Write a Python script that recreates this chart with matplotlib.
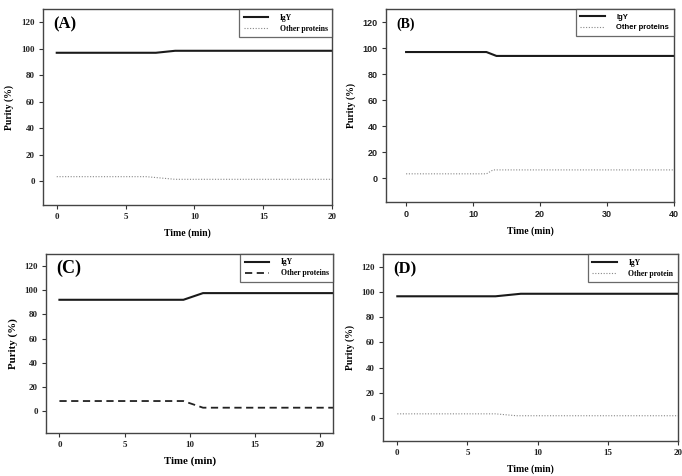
import matplotlib.pyplot as plt

# purity vs time for the four runs
t_a = [0, 7.2, 8.6, 20]
igy_a = [97, 97, 98.5, 98.5]
oth_t_a = [0, 6.5, 8.6, 20]
oth_a = [3.5, 3.5, 1.5, 1.5]

t_b = [0, 12, 13.5, 40]
igy_b = [97, 97, 94, 94]
oth_t_b = [0, 12, 13, 40]
oth_b = [3.5, 3.5, 6.5, 6.5]

t_c = [0, 9.5, 11, 21]
igy_c = [92, 92, 97.5, 97.5]
oth_t_c = [0, 9.5, 11, 21]
oth_c = [8.5, 8.5, 3, 3]

t_d = [0, 7, 8.8, 20]
igy_d = [96.5, 96.5, 98.5, 98.5]
oth_t_d = [0, 7, 8.5, 20]
oth_d = [3.5, 3.5, 2, 2]

serif = "Liberation Serif"
sans = "Liberation Sans"

fig = plt.figure(figsize=(6.82, 4.76), dpi=100)

panels = [
    # rect, label, t, igy, other t, other, xlim, xticks, other style, legend text, legend font, label size, tick font, panel size
    ([0.063, 0.569, 0.424, 0.412], "(A)", t_a, igy_a, oth_t_a, oth_a, (-1, 20), [0, 5, 10, 15, 20],
     "dotted", "Other proteins", serif, 7, serif, 12),
    ([0.566, 0.576, 0.422, 0.405], "(B)", t_b, igy_b, oth_t_b, oth_b, (-3, 40), [0, 10, 20, 30, 40],
     "dotted", "Other proteins", sans, 7, sans, 10),
    ([0.068, 0.090, 0.421, 0.377], "(C)", t_c, igy_c, oth_t_c, oth_c, (-1, 21), [0, 5, 10, 15, 20],
     "dashed", "Other proteins", serif, 7.8, serif, 13),
    ([0.562, 0.0735, 0.432, 0.393], "(D)", t_d, igy_d, oth_t_d, oth_d, (-1, 20), [0, 5, 10, 15, 20],
     "dotted", "Other protein", serif, 7, serif, 12),
]

for rect, lab, t, igy, ot, oth, xlim, xt, ls, otxt, lfont, lsize, tfont, psize in panels:
    ax = fig.add_axes(rect)
    ax.plot(t, igy, color="#1a1a1a", lw=1.5, label="IgY")
    if ls == "dashed":
        ax.plot(ot, oth, color="#222222", lw=1.3, ls=(0, (4, 2.5)), label=otxt)
    else:
        ax.plot(ot, oth, color="#888888", lw=0.8, ls=(0, (1, 1.5)), label=otxt)
    ax.set_xlim(*xlim)
    ax.set_ylim(-18, 130)
    ax.set_xticks(xt)
    ax.set_yticks([0, 20, 40, 60, 80, 100, 120])
    ax.tick_params(direction="out", length=3, width=0.8, color="#333333", pad=3)
    for tl in ax.get_xticklabels() + ax.get_yticklabels():
        tl.set_fontfamily(tfont)
        tl.set_fontweight("bold")
        tl.set_fontsize(6.5)
        tl.set_color("#222222")
    for s in ax.spines.values():
        s.set_color("#444444")
        s.set_linewidth(1.0)
    ax.set_xlabel("Time (min)", fontfamily=serif, fontweight="bold", fontsize=lsize, labelpad=5)
    ax.set_ylabel("Purity (%)", fontfamily=serif, fontweight="bold", fontsize=lsize, labelpad=5)
    ax.text(0.035, 0.92, lab, transform=ax.transAxes, fontfamily=serif, fontweight="bold",
            fontsize=psize, va="center", ha="left")
    leg = ax.legend(loc="upper right", borderaxespad=0, fancybox=False, frameon=True,
                    handlelength=3.2, handletextpad=1.5, labelspacing=0.4, borderpad=0.6,
                    prop={"family": lfont, "weight": "bold", "size": 5.5})
    leg.get_frame().set_edgecolor("#444444")
    leg.get_frame().set_linewidth(0.9)

fig.savefig("out.png", dpi=100)
